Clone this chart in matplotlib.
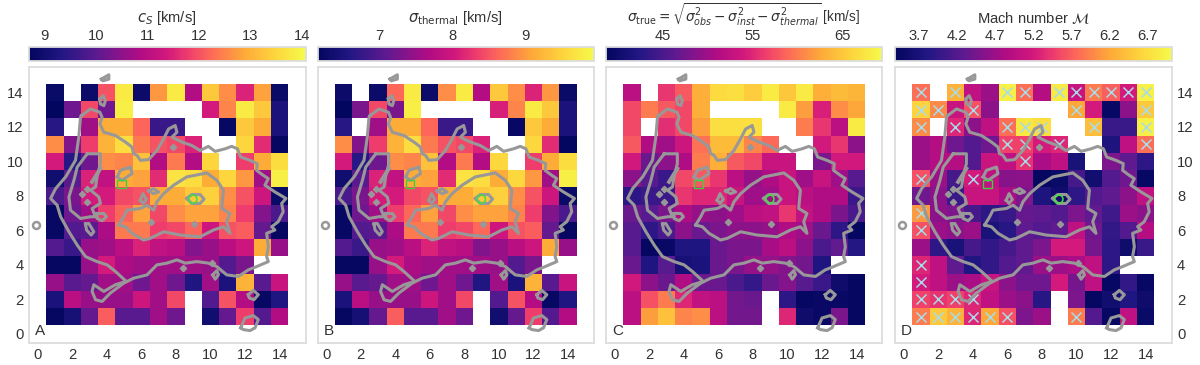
import numpy as np
import matplotlib
matplotlib.use("Agg")
import matplotlib.pyplot as plt
from matplotlib.colors import LinearSegmentedColormap
from matplotlib.patches import Rectangle, Circle

plt.rcParams['font.family'] = ['Liberation Sans', 'DejaVu Sans']
plt.rcParams['mathtext.fontset'] = 'dejavusans'

nan = np.nan

# rows run from y=14 (first) down to y=1, columns x=1..14
cs_vals = [
    [8.85, nan, 8.9, 12.0, 13.8, 8.9, 12.7, 13.8, 10.9, 13.3, 12.6, 11.5, 12.8, 8.85],
    [8.7, 10.2, 11.9, 10.2, 13.9, nan, nan, nan, nan, 11.4, 12.5, 13.8, 13.3, 9.2],
    [9.4, nan, 10.7, 12.9, 12.9, 12.2, 9.6, 9.6, nan, nan, 8.8, 13.3, 12.9, 9.2],
    [12.6, 10.4, 11.8, 13.0, 13.6, 12.4, 12.0, 11.9, 11.5, nan, nan, 13.5, 11.6, 8.75],
    [11.4, 9.4, 10.2, 12.6, 12.5, 13.2, 10.9, 12.4, 10.9, 13.5, nan, 11.8, 12.9, 13.6],
    [9.0, 10.0, 11.5, 11.1, 12.9, 12.8, 11.6, 13.7, 13.6, 12.9, 13.5, 12.7, 10.7, 13.9],
    [9.8, 10.3, 11.4, 11.4, 11.9, 12.0, 12.9, 12.9, 13.3, 13.4, 12.6, 12.0, 11.3, 8.85],
    [8.8, 10.2, 10.7, 11.8, 12.2, 12.8, 11.9, 12.6, 12.8, 12.8, 12.5, 11.8, 10.4, 9.8],
    [8.8, 9.9, 10.0, 10.8, 12.4, 12.4, 11.8, 11.9, 12.2, 11.3, 12.0, 12.1, 10.1, 8.75],
    [9.9, 9.6, 10.6, 10.7, 11.0, 11.5, 11.1, 11.0, 10.4, 10.6, 11.0, 11.3, 12.9, 10.6],
    [8.75, 8.75, 10.6, 11.4, 10.8, 10.7, 10.7, 10.7, 10.7, 10.6, 9.9, 10.3, nan, nan],
    [10.6, 10.0, 10.1, 10.7, 10.7, 10.2, 10.7, 10.2, 9.3, 10.7, 9.2, 13.0, 10.0, 11.2],
    [9.2, 11.0, 10.6, 10.6, 10.6, 11.3, 10.7, 11.9, nan, 9.9, 12.0, 10.9, 8.8, 9.3],
    [8.75, 9.1, 10.1, 12.1, 10.0, 10.0, 10.7, 10.2, nan, 9.0, 10.1, 11.8, 9.9, 10.9],
]

thermal_vals = [
    [6.29, nan, 6.29, 8.63, 9.76, 6.29, 8.91, 9.76, 7.71, 9.41, 8.91, 8.13, 8.98, 6.26],
    [6.15, 7.28, 8.41, 7.28, 9.83, nan, nan, nan, nan, 8.1, 8.85, 9.76, 9.41, 6.5],
    [6.65, nan, 7.57, 9.12, 9.12, 8.63, 6.79, 6.79, nan, nan, 6.22, 9.41, 9.12, 6.5],
    [8.91, 7.35, 8.34, 9.19, 9.62, 8.77, 8.49, 8.41, 8.13, nan, nan, 9.55, 8.2, 6.17],
    [8.06, 6.65, 7.21, 8.91, 8.84, 9.33, 7.71, 8.77, 7.71, 9.55, nan, 8.34, 9.12, 9.62],
    [6.36, 7.07, 8.13, 7.85, 9.12, 9.05, 8.2, 9.69, 9.62, 9.12, 9.55, 8.98, 7.57, 9.83],
    [6.93, 7.28, 8.06, 8.06, 8.41, 8.49, 9.12, 9.12, 9.41, 9.48, 8.91, 8.49, 7.99, 6.26],
    [6.22, 7.21, 7.57, 8.34, 8.63, 9.05, 8.41, 8.91, 9.05, 9.05, 8.84, 8.34, 7.35, 6.93],
    [6.22, 7.0, 7.07, 7.64, 8.77, 8.77, 8.34, 8.41, 8.63, 7.99, 8.49, 8.56, 7.14, 6.19],
    [7.0, 6.79, 7.49, 7.57, 7.78, 8.13, 7.85, 7.78, 7.35, 7.49, 7.78, 7.99, 9.12, 7.49],
    [6.19, 6.19, 7.49, 8.06, 7.64, 7.57, 7.57, 7.57, 7.57, 7.49, 7.0, 7.28, nan, nan],
    [7.49, 7.07, 7.14, 7.57, 7.57, 7.21, 7.57, 7.21, 6.57, 7.57, 6.5, 9.19, 7.07, 7.92],
    [6.5, 7.78, 7.49, 7.49, 7.49, 7.99, 7.57, 8.41, nan, 7.0, 8.49, 7.71, 6.22, 6.57],
    [6.19, 6.43, 7.14, 8.56, 7.07, 7.07, 7.57, 7.21, nan, 6.36, 7.14, 8.34, 7.0, 7.71],
]

true_vals = [
    [52, nan, 56, 58, 63, 66.5, 67, 65.5, 68, 65, 68, 63, 64, 63.5],
    [57, 60, 58, 57, 63, nan, nan, nan, nan, 68, 62, 54.5, 61, 62.5],
    [57, nan, 55.5, 57, 62, 67, 67, 67, nan, nan, 60, 56, 52, 68],
    [58, 51, 50, 53.5, 59.5, 64, 64, 60.5, 59, nan, nan, 54, 56, 49],
    [54, 47, 49, 51, 60, 63, 58, 57, 53, 53, nan, 48, 54, 54],
    [49, 46, 44, 57, 58, 56, 52, 49.5, 51, 53, 50, 53, 50, 46],
    [43, 44, 44, 56, 55, 55, 53, 50, 50, 53, 52, 51, 51, 44],
    [47, 46, 48, 51, 49.5, 49, 50, 52, 52.5, 56, 52.5, 51, 48, 45],
    [46, 43, 45, 49, 47, 48, 49, 49, 49.5, 51, 50, 47, 43, 39],
    [46, 39, 39.5, 42, 42, 47, 48, 48, 50.5, 52, 49, 45, 46.5, 42.5],
    [47, 42, 46, 41, 41.5, 47, 48, 49.5, 49.5, 48.5, 47.5, 42, nan, nan],
    [54, 49, 47, 51, 47, 47, 45, 43.5, 47, 48.5, 46, 44, 40, 39],
    [52, 57.5, 60, 55, 52.5, 52, 47.5, 47, nan, 43, 39, 39.5, 39.5, 39],
    [52, 62, 64.5, 60.5, 61, 52, 47.5, 47.5, nan, 55, 40, 39.5, 48, 39],
]

mach_vals = [
    [5.8, nan, 6.3, 5.0, 4.7, 6.9, 5.8, 4.9, 6.85, 5.1, 5.9, 5.7, 5.2, 6.9],
    [6.6, 6.0, 5.1, 5.6, 4.6, nan, nan, nan, nan, 6.2, 5.2, 3.45, 4.6, 6.5],
    [6.0, nan, 5.3, 4.6, 5.0, 5.8, 6.8, 6.7, nan, nan, 6.4, 4.0, 4.0, 6.9],
    [4.7, 4.9, 4.4, 4.2, 4.4, 5.5, 5.5, 5.2, 5.3, nan, nan, 3.75, 5.0, 5.8],
    [4.7, 4.9, 4.9, 4.2, 5.1, 5.0, 5.4, 4.8, 5.0, 3.7, nan, 4.5, 4.3, 3.9],
    [5.6, 4.7, 4.1, 5.2, 5.0, 4.55, 4.6, 3.42, 3.5, 4.1, 3.6, 4.2, 4.4, 3.45],
    [4.4, 4.6, 4.0, 5.1, 5.1, 4.8, 4.5, 3.75, 3.55, 3.9, 4.2, 4.3, 4.6, 5.0],
    [6.1, 4.6, 4.5, 4.1, 3.9, 4.0, 4.35, 4.3, 4.2, 4.5, 4.3, 4.05, 4.7, 4.6],
    [5.6, 4.7, 4.6, 4.7, 3.7, 3.85, 4.3, 4.2, 4.3, 5.0, 4.4, 3.95, 4.2, 4.9],
    [4.7, 3.9, 3.7, 4.1, 3.95, 4.1, 4.3, 4.5, 5.2, 5.2, 4.45, 3.9, 3.55, 4.0],
    [5.3, 5.0, 4.3, 3.8, 3.95, 4.2, 4.3, 4.7, 4.7, 4.8, 5.0, 3.9, nan, nan],
    [5.2, 5.0, 4.7, 4.8, 5.1, 4.6, 4.4, 4.4, 5.2, 4.45, 5.0, 3.45, 3.95, 3.45],
    [5.5, 5.4, 5.5, 5.3, 5.0, 4.7, 4.6, 3.85, nan, 4.5, 3.42, 3.6, 3.8, 3.55],
    [5.9, 6.5, 6.3, 5.3, 6.2, 5.6, 4.5, 4.7, nan, 5.9, 4.2, 3.45, 5.0, 3.5],
]

# crosses on panel D
cross_x = [1, 3, 6, 7, 9, 10, 11, 12, 13, 14, 1, 2, 4, 10, 14, 1, 3, 6, 7, 8, 11, 14,
           6, 7, 9, 14, 7, 1, 4, 1, 1, 1, 1, 1, 2, 3, 4, 1, 2, 3, 4, 5, 6, 10]
cross_y = [14, 14, 14, 14, 14, 14, 14, 14, 14, 14, 13, 13, 13, 13, 13, 12, 12, 12, 12, 12, 12, 12,
           11, 11, 11, 11, 10, 9, 9, 7, 6, 4, 3, 2, 2, 2, 2, 1, 1, 1, 1, 1, 1, 1]

# contours
outer_contour = [
    (2.54, 12.65), (3.06, 13.04), (3.60, 12.85), (3.73, 12.56), (3.60, 12.17), (3.83, 11.69),
    (4.50, 11.50), (5.08, 11.12), (5.46, 10.83), (5.55, 10.45), (5.75, 10.35), (5.94, 10.06), (6.42, 10.10),
    (6.90, 10.63), (7.29, 11.31), (7.58, 11.88), (7.96, 12.08), (8.06, 11.69), (7.77, 11.40),
    (8.35, 11.12), (8.92, 10.92), (9.40, 10.63), (9.88, 10.87), (10.27, 10.58), (10.85, 10.73),
    (11.23, 10.87), (11.56, 10.73), (11.75, 10.25), (12.29, 10.06), (12.71, 9.87), (12.67, 9.48),
    (13.06, 9.19), (13.35, 9.00), (13.15, 8.62), (13.73, 8.23), (14.37, 7.85), (14.12, 7.56),
    (14.21, 7.08), (13.92, 6.50), (13.54, 6.21), (13.73, 6.02), (13.25, 5.83), (13.35, 5.06),
    (13.25, 4.48), (13.35, 4.19), (12.67, 3.90), (12.19, 3.71), (11.62, 3.33), (10.94, 3.42),
    (10.37, 3.90), (9.88, 4.10), (9.21, 4.19), (8.54, 4.10), (8.06, 4.29), (7.48, 4.10),
    (6.90, 4.00), (6.33, 3.42), (5.56, 3.23), (4.98, 2.94), (4.21, 2.37), (3.73, 1.88),
    (3.35, 1.98), (3.15, 2.46), (3.25, 2.85), (3.83, 2.46), (4.50, 2.85), (5.13, 3.04),
    (4.50, 3.62), (4.02, 4.00), (3.44, 4.19), (2.77, 4.48), (2.29, 5.15), (1.81, 5.92),
    (1.33, 6.79), (1.13, 7.46), (0.75, 7.85), (1.04, 8.42), (1.62, 9.10), (2.19, 10.06),
    (2.38, 11.40), (2.48, 12.56),
]
inner_contour = [
    (2.87, 10.44), (3.63, 10.44), (3.63, 9.87), (3.44, 9.10), (3.35, 8.52), (3.06, 8.33),
    (3.54, 7.94), (3.63, 7.56), (3.15, 7.27), (3.35, 6.79), (3.06, 6.79), (2.48, 6.69),
    (1.90, 7.17), (1.81, 7.94), (2.10, 8.90), (2.29, 9.67),
]
central_contour = [
    (4.69, 6.31), (4.98, 6.79), (5.17, 7.17), (5.94, 7.27), (6.33, 7.46), (6.71, 7.17),
    (6.90, 7.65), (7.29, 8.13), (7.87, 8.62), (8.63, 9.10), (9.79, 9.33), (10.37, 8.90),
    (10.75, 8.33), (10.65, 7.27), (11.13, 6.98), (10.94, 6.50), (11.13, 5.83), (10.75, 6.21),
    (10.17, 6.02), (9.40, 5.63), (8.25, 5.73), (7.29, 5.92), (6.52, 5.54), (6.13, 5.44),
    (5.46, 5.83), (5.08, 6.21),
]
small_contours = [
    [(4.60, 9.10), (4.79, 9.48), (5.37, 9.67), (5.46, 9.29), (5.17, 9.10), (4.88, 8.90)],
    [(8.63, 7.85), (8.92, 8.08), (9.40, 8.08), (9.63, 7.81), (9.40, 7.56), (8.92, 7.56)],
    [(2.77, 6.37), (2.96, 6.40), (3.25, 5.92), (3.10, 5.73), (2.83, 6.02)],
    [(3.44, 6.98), (3.83, 6.98), (3.98, 6.79), (3.73, 6.56), (3.44, 6.69)],
    [(3.69, 14.77), (4.12, 15.02), (4.12, 14.77), (3.77, 14.67)],
    [(3.60, 13.62), (3.79, 13.81), (3.92, 13.52), (3.83, 13.23), (3.63, 13.33)],
    [(12.19, 2.27), (12.48, 2.52), (12.77, 2.27), (12.52, 1.98), (12.25, 2.08)],
    [(11.75, 0.35), (12.0, 0.92), (12.48, 1.06), (12.77, 0.83), (12.58, 0.35), (12.29, 0.19), (11.9, 0.25)],
    [(10.13, 3.42), (10.37, 3.67), (10.46, 3.42), (10.27, 3.17)],
    [(6.42, 8.29), (6.71, 8.42), (7.0, 8.23), (6.71, 8.13)],
    [(5.94, 7.75), (6.10, 8.13), (6.29, 7.79), (6.10, 7.56)],
]
slash_x = [3.15, 3.63]
slash_y = [8.81, 9.58]
blob_x = [7.83, 9.06, 6.56, 8.44, 10.08, 2.58, 2.87, 2.87]
blob_y = [10.83, 6.37, 6.5, 3.81, 4.1, 8.13, 8.37, 7.65]
ring_x = [-0.08]
ring_y = [6.31]

panels = ["A", "B", "C", "D"]
panel_data = [cs_vals, thermal_vals, true_vals, mach_vals]
vlims = [(8.7, 14.07), (6.15, 9.95), (38.66, 69.5), (3.39, 7.01)]
cbar_ticks = [[9, 10, 11, 12, 13, 14], [7, 8, 9], [45, 55, 65],
              [3.7, 4.2, 4.7, 5.2, 5.7, 6.2, 6.7]]
cbar_labels = [r"$c_S$ [km/s]", r"$\sigma_{\rm thermal}$ [km/s]",
               r"$\sigma_{\rm true} = \sqrt{\sigma_{obs}^2 - \sigma_{inst}^2 - \sigma_{thermal}^2}$ [km/s]",
               r"Mach number $\mathcal{M}$"]
title_size = [10.6, 10.6, 9.8, 10.6]
title_y = [18, 18, 14.5, 18]
lefts = [29, 317.5, 606, 895]

cmap = LinearSegmentedColormap.from_list("hot_navy", [
    (0.0, "#03065e"), (0.12, "#231784"), (0.25, "#5f1a90"), (0.40, "#b00c84"),
    (0.50, "#d2187c"), (0.58, "#ef3f6c"), (0.66, "#fd6a58"), (0.78, "#fdaa38"),
    (0.90, "#fdd83e"), (1.0, "#f5fa4a"),
])
cmap.set_bad("white")

W, H = 1200, 365
grey = "#dddddd"
ink = "#333333"
fs = 10.6
line_grey = "#989898"

fig = plt.figure(figsize=(W / 100, H / 100), dpi=100)
edges = np.arange(0.5, 15.5)


def closed(pts):
    xs = [p[0] for p in pts] + [pts[0][0]]
    ys = [p[1] for p in pts] + [pts[0][1]]
    return xs, ys


for i, name in enumerate(panels):
    ax = fig.add_axes([lefts[i] / W, 1 - 342.5 / H, 276.5 / W, 276 / H])
    vals = np.array(panel_data[i], dtype=float)[::-1]
    mesh = ax.pcolormesh(edges, edges, vals, cmap=cmap, vmin=vlims[i][0], vmax=vlims[i][1], linewidth=0, rasterized=True)
    ax.set_xlim(-0.5, 15.5)
    ax.set_ylim(-0.5, 15.5)
    ax.set_xticks(range(0, 15, 2))
    ax.set_yticks(range(0, 15, 2))
    ax.tick_params(length=0, labelsize=fs, labelcolor=ink, pad=4)
    if name == "D":
        ax.yaxis.tick_right()
    elif name != "A":
        ax.set_yticklabels([])
    for s in ax.spines.values():
        s.set_color(grey)
        s.set_linewidth(1.3)

    if name == "D":
        ax.scatter(cross_x, cross_y, marker="x", s=52, color="#a8dcea", linewidths=1.1, zorder=2)

    for pts in [outer_contour, inner_contour, central_contour] + small_contours:
        xs, ys = closed(pts)
        ax.plot(xs, ys, color=line_grey, lw=2.2, solid_joinstyle="round", zorder=3)
    ax.plot(slash_x, slash_y, color=line_grey, lw=2.8, zorder=3)
    ax.plot(blob_x, blob_y, ls="none", marker="D", ms=3.2, color=line_grey, zorder=3)
    ax.plot(ring_x, ring_y, ls="none", marker="o", ms=5, mfc="white", mec=line_grey, mew=1.8, zorder=3)

    ax.add_patch(Rectangle((4.6, 8.43), 0.5, 0.5, fill=False, edgecolor="#3fd03f", lw=1.0, zorder=4))
    ax.add_patch(Circle((8.98, 7.81), 0.24, fill=False, edgecolor="#3fe03f", lw=1.1, zorder=4))
    ax.text(0.022, 0.018, name, transform=ax.transAxes, fontsize=fs + 0.4, color=ink, ha="left", va="bottom")

    cax = fig.add_axes([lefts[i] / W, 1 - 61 / H, 276.5 / W, 14 / H])
    cb = fig.colorbar(mesh, cax=cax, orientation="horizontal", ticklocation="top")
    cb.set_ticks(cbar_ticks[i])
    cb.set_ticklabels([str(t) for t in cbar_ticks[i]])
    cb.ax.tick_params(length=0, labelsize=fs, labelcolor=ink, pad=3)
    cb.outline.set_edgecolor(grey)
    cb.outline.set_linewidth(1.3)
    fig.text((lefts[i] + 138) / W, 1 - title_y[i] / H, cbar_labels[i], ha="center", va="center", fontsize=title_size[i], color=ink)

fig.savefig("out.png", dpi=100)
